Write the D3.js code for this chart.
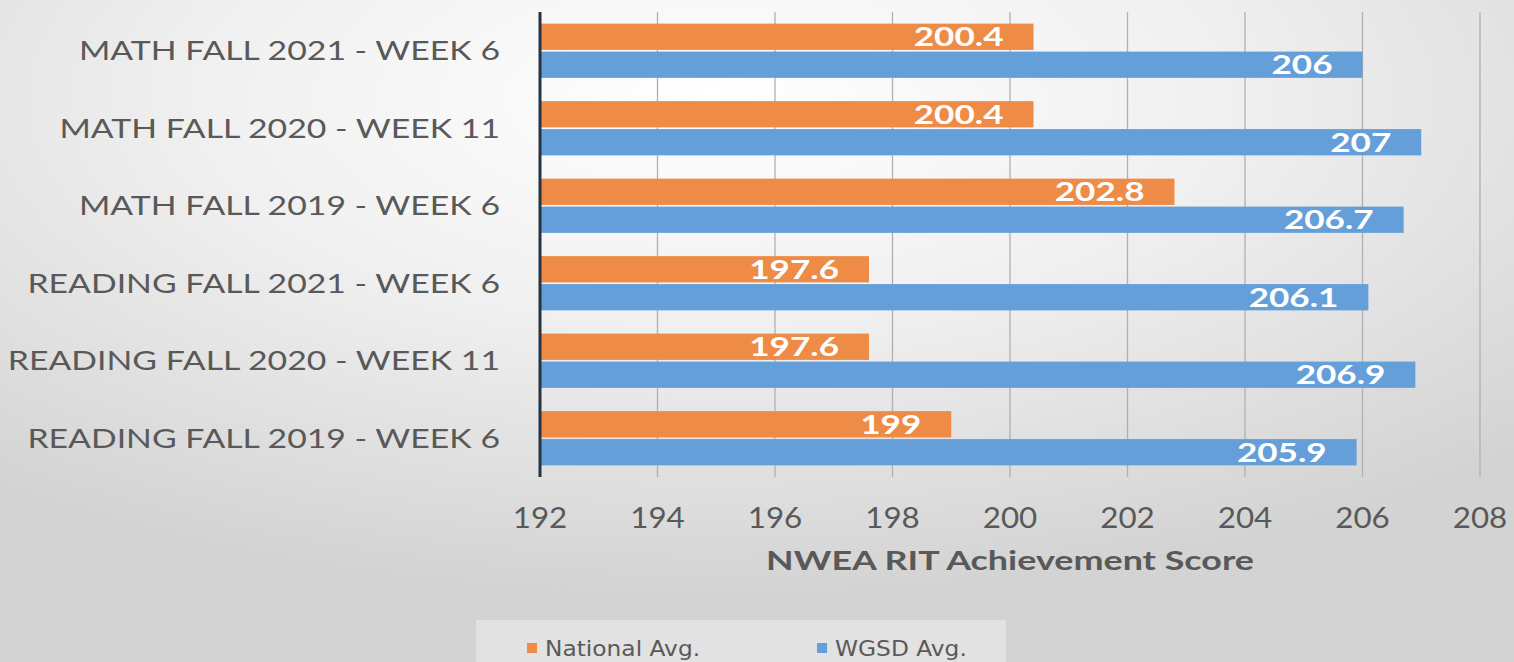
<!DOCTYPE html>
<html><head><meta charset="utf-8">
<script src="https://cdn.jsdelivr.net/npm/d3@7"></script>
<style>
html,body{margin:0;padding:0;overflow:hidden;background:#e0e0e0;}
svg{display:block;}
</style></head>
<body>
<svg id="chart" width="1514" height="662"></svg>
<script>
const categories = [
  "MATH FALL 2021 - WEEK 6",
  "MATH FALL 2020 - WEEK 11",
  "MATH FALL 2019 - WEEK 6",
  "READING FALL 2021 - WEEK 6",
  "READING FALL 2020 - WEEK 11",
  "READING FALL 2019 - WEEK 6"
];
const seriesNames = ["National Avg.", "WGSD Avg."];
const nationalAvg = [200.4, 200.4, 202.8, 197.6, 197.6, 199];
const wgsdAvg = [206, 207, 206.7, 206.1, 206.9, 205.9];
const xTicks = [192, 194, 196, 198, 200, 202, 204, 206, 208];
const axisTitle = "NWEA RIT Achievement Score";
const colors = ["#ed8b47", "#659fd9"];

const svg = d3.select("#chart");
const W = 1514, H = 662;

// background
const defs = svg.append("defs");
const rg = defs.append("radialGradient").attr("id","bg")
  .attr("cx","0.47").attr("cy","0.15").attr("r","0.75");
rg.append("stop").attr("offset","0").attr("stop-color","#ffffff");
rg.append("stop").attr("offset","0.45").attr("stop-color","#f0f0f0");
rg.append("stop").attr("offset","1").attr("stop-color","#d3d3d3");
svg.append("rect").attr("width",W).attr("height",H).attr("fill","url(#bg)");

const x = d3.scaleLinear().domain([192,208]).range([540,1480]);
const y = d3.scaleBand().domain(categories).range([12,477]).paddingInner(0.3).paddingOuter(0.15);
const ySub = d3.scaleBand().domain(seriesNames).range([0,y.bandwidth()]).paddingInner(0.06);

// gridlines
svg.append("g").selectAll("line").data(xTicks.slice(1)).join("line")
  .attr("x1",d=>x(d)).attr("x2",d=>x(d)).attr("y1",12).attr("y2",477)
  .attr("stroke","#b0b0b0").attr("stroke-width",1.3);

// bars
const data = categories.map((c,i)=>({c, vals:[nationalAvg[i], wgsdAvg[i]]}));
const groups = svg.append("g").selectAll("g").data(data).join("g")
  .attr("transform",d=>`translate(0,${y(d.c)})`);
groups.selectAll("rect").data(d=>d.vals.map((v,j)=>({v,s:seriesNames[j],j}))).join("rect")
  .attr("x",x(192)).attr("y",d=>ySub(d.s)).attr("width",d=>x(d.v)-x(192))
  .attr("height",ySub.bandwidth()).attr("fill",d=>colors[d.j]);
groups.selectAll("g.lbl").data(d=>d.vals.map((v,j)=>({v,s:seriesNames[j],j}))).join("g")
  .attr("class","lbl")
  .attr("transform",d=>`translate(${x(d.v)-30},${ySub(d.s)+ySub.bandwidth()/2}) scale(1.3,1)`)
  .append("text").attr("text-anchor","end").attr("dy","0.36em")
  .attr("font-family","Lato, 'Open Sans', sans-serif").attr("font-weight","bold")
  .attr("font-size",27).attr("fill","#ffffff").text(d=>d.v);

// axis line
svg.append("line").attr("x1",x(192)).attr("x2",x(192)).attr("y1",12).attr("y2",477)
  .attr("stroke","#263442").attr("stroke-width",3);

// category labels
svg.append("g").selectAll("g").data(categories).join("g")
  .attr("transform",d=>`translate(500,${y(d)+y.bandwidth()/2}) scale(1.3,1)`)
  .append("text").attr("text-anchor","end").attr("dy","0.36em")
  .attr("font-family","Lato, 'Open Sans', sans-serif").attr("font-size",26)
  .attr("fill","#595959").text(d=>d);

// tick labels
svg.append("g").selectAll("g").data(xTicks).join("g")
  .attr("transform",d=>`translate(${x(d)},518) scale(1.08,1)`)
  .append("text").attr("text-anchor","middle").attr("dy","0.36em")
  .attr("font-family","Lato, 'Open Sans', sans-serif").attr("font-size",29)
  .attr("fill","#595959").text(d=>d);

// axis title
svg.append("g").attr("transform",`translate(${(x(192)+x(208))/2},561) scale(1.38,1)`)
  .append("text").attr("text-anchor","middle").attr("dy","0.36em")
  .attr("font-family","Lato, 'Open Sans', sans-serif").attr("font-weight","bold").attr("font-size",26)
  .attr("fill","#595959").text(axisTitle);

// legend
svg.append("rect").attr("x",476).attr("y",620).attr("width",530).attr("height",42)
  .attr("fill","#ffffff").attr("opacity",0.35);
const legX = [527, 817];
const leg = svg.append("g").selectAll("g").data(seriesNames).join("g")
  .attr("transform",(d,i)=>`translate(${legX[i]},648)`);
leg.append("rect").attr("x",0).attr("y",-5).attr("width",10).attr("height",10)
  .attr("fill",(d,i)=>colors[i]);
leg.append("g").attr("transform",`translate(18,0) scale(1.06,1)`)
  .append("text").attr("dy","0.36em")
  .attr("font-family","'DejaVu Sans', sans-serif").attr("font-size",22)
  .attr("fill","#595959").text(d=>d);
</script>
</body></html>
